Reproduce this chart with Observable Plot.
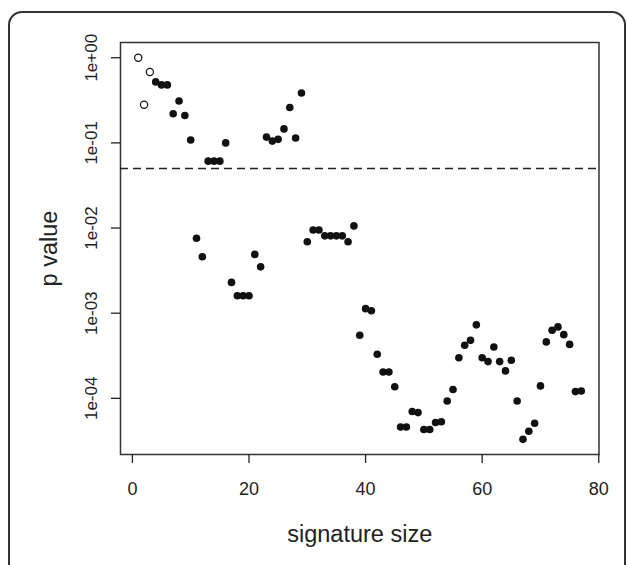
<!DOCTYPE html>
<html><head><meta charset="utf-8">
<script src="https://cdn.jsdelivr.net/npm/d3@7"></script>
<script src="https://cdn.jsdelivr.net/npm/@observablehq/plot@0.6"></script>
<style>
html,body{margin:0;padding:0;background:#fff;overflow:hidden;width:627px;height:565px}
#wrap{position:relative;width:627px;height:565px;overflow:hidden}
#border{position:absolute;left:8px;top:11px;width:618px;height:620px;border:2px solid #333;border-radius:14px;box-sizing:border-box}
#chart{position:absolute;left:0;top:0}
</style></head><body><div id="wrap"><div id="border"></div><div id="chart"></div></div>
<script>
const sizes = [1,2,3,4,5,6,7,8,9,10,11,12,13,14,15,16,17,18,19,20,21,22,23,24,25,26,27,28,29,30,31,32,33,34,35,36,37,38,39,40,41,42,43,44,45,46,47,48,49,50,51,52,53,54,55,56,57,58,59,60,61,62,63,64,65,66,67,68,69,70,71,72,73,74,75,76,77];
const pvalues = [1.0,0.28,0.68,0.52,0.48,0.48,0.22,0.31,0.21,0.108,0.0076,0.0046,0.061,0.061,0.061,0.10,0.0023,0.0016,0.0016,0.0016,0.0049,0.0035,0.117,0.105,0.11,0.146,0.26,0.114,0.385,0.0069,0.0095,0.0095,0.0081,0.0081,0.0081,0.0081,0.0069,0.0106,0.00055,0.00113,0.00107,0.00033,0.000204,0.000204,0.000137,0.000046,0.000046,0.000070,0.000068,0.000043,0.000043,0.000052,0.000053,0.000093,0.000127,0.00030,0.00042,0.00048,0.00073,0.00030,0.00027,0.00040,0.00027,0.00021,0.00028,0.000093,0.000033,0.000041,0.000051,0.00014,0.00046,0.00063,0.00069,0.00056,0.00043,0.00012,0.000122];
const hollowSizes = [1,2,3];
const threshold = 0.05;
const xTicks = [0,20,40,60,80];
const yTicks = [1,0.1,0.01,0.001,0.0001];
const yTickLabels = ["1e+00","1e-01","1e-02","1e-03","1e-04"];
const xLabel = "signature size";
const yLabel = "p value";

const data = sizes.map((s,i)=>({size:s, p:pvalues[i], open: hollowSizes.includes(s)}));
const plot = Plot.plot({
  width: 627, height: 565,
  marginLeft: 120, marginRight: 28.5, marginTop: 42, marginBottom: 111,
  x: {domain: [-2.04, 80.04]},
  y: {type: "log", domain: [2.19e-5, 1.51]},
  style: {fontFamily: "'Liberation Sans', Arial, sans-serif", fontSize: "17px", color: "#222", background: "transparent"},
  marks: [
    Plot.frame({stroke:"#333", strokeWidth:1.5}),
    Plot.axisX({ticks: xTicks, tickSize: 9, tickPadding: 19, fontSize: 18, tickFormat: d=>String(d), label: null, strokeWidth: 1.3}),
    Plot.axisY({ticks: yTicks, tickSize: 9, tickFormat: ()=>"", label: null, strokeWidth: 1.3}),
    Plot.text(yTicks, {y: d=>d, text: (d,i)=>yTickLabels[i], frameAnchor:"left", dx:-29, rotate:-90, fontSize:17, textAnchor:"middle", lineAnchor:"middle"}),
    Plot.ruleY([threshold], {strokeDasharray:"8,5", strokeWidth:1.5, stroke:"#222"}),
    Plot.dot(data.filter(d=>!d.open), {x:"size", y:"p", r:3.8, fill:"#111", stroke:"none"}),
    Plot.dot(data.filter(d=>d.open), {x:"size", y:"p", r:3.6, stroke:"#111", fill:"white", strokeWidth:1.2}),
    Plot.text([xLabel], {text: d=>d, frameAnchor:"bottom", dy: 80, fontSize:23.5, textAnchor:"middle", lineAnchor:"middle"}),
    Plot.text([yLabel], {text: d=>d, frameAnchor:"left", dx:-71, rotate:-90, fontSize:23.5, textAnchor:"middle", lineAnchor:"middle"})
  ]
});
document.getElementById("chart").appendChild(plot);
</script></body></html>
